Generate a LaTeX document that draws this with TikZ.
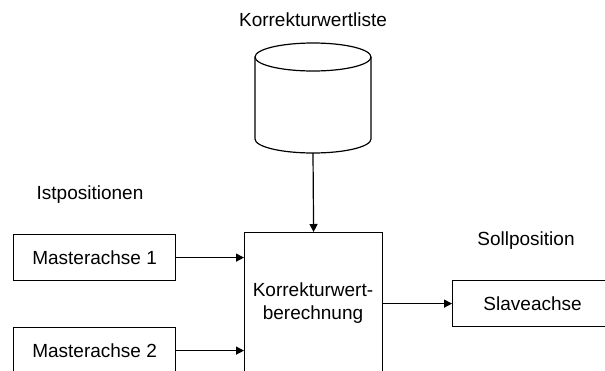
\documentclass[tikz,border=0pt]{standalone}
\usepackage{fontspec}
\setmainfont{Liberation Sans}
\usetikzlibrary{arrows.meta}
\begin{document}
\begin{tikzpicture}[x=1pt,y=-1pt,
  every node/.style={font=\fontsize{19}{23}\selectfont, inner sep=0pt},
  box/.style={draw, line width=1.2pt, anchor=north west},
  label/.style={align=center},
  link/.style={draw, line width=1.2pt, -{Triangle[length=8pt,width=8pt]}}]
\useasboundingbox (0,0) rectangle (605,370);
\clip (0,0) rectangle (605,370);

% database cylinder: body with rounded bottom, then the top ellipse
\draw[line width=1.2pt, fill=white]
  (255,57) -- (255,139) arc[start angle=180, end angle=0, x radius=58, y radius=14]
  -- (371,57);
\draw[line width=1.2pt] (313,57) ellipse[x radius=58, y radius=14];
\coordinate (db) at (313,153);
\node[label] (dbl) at (313,20) {Korrekturwertliste};

% blocks
\node[box, minimum width=162pt, minimum height=46pt] (m1) at (13,234) {};
\node at (m1.center) {Masterachse 1};
\node[box, minimum width=162pt, minimum height=46pt] (m2) at (13,327) {};
\node at (m2.center) {Masterachse 2};
\node[box, minimum width=138pt, minimum height=142pt] (calc) at (244,232) {};
\node[label] at (313,303) {Korrekturwert-\\berechnung};
\node[box, minimum width=160pt, minimum height=46pt] (slave) at (452,280) {};
\node at (slave.center) {Slaveachse};

% captions
\node (ist) at (90,195) {Istpositionen};
\node (soll) at (526,241) {Sollposition};

% connectors
\draw[link] (db) -- (calc.north);
\draw[link] (m1.east) -- (m1.east -| calc.west);
\draw[link] (m2.east) -- (m2.east -| calc.west);
\draw[link] (calc.east |- slave.west) -- (slave.west);
\end{tikzpicture}
\end{document}
